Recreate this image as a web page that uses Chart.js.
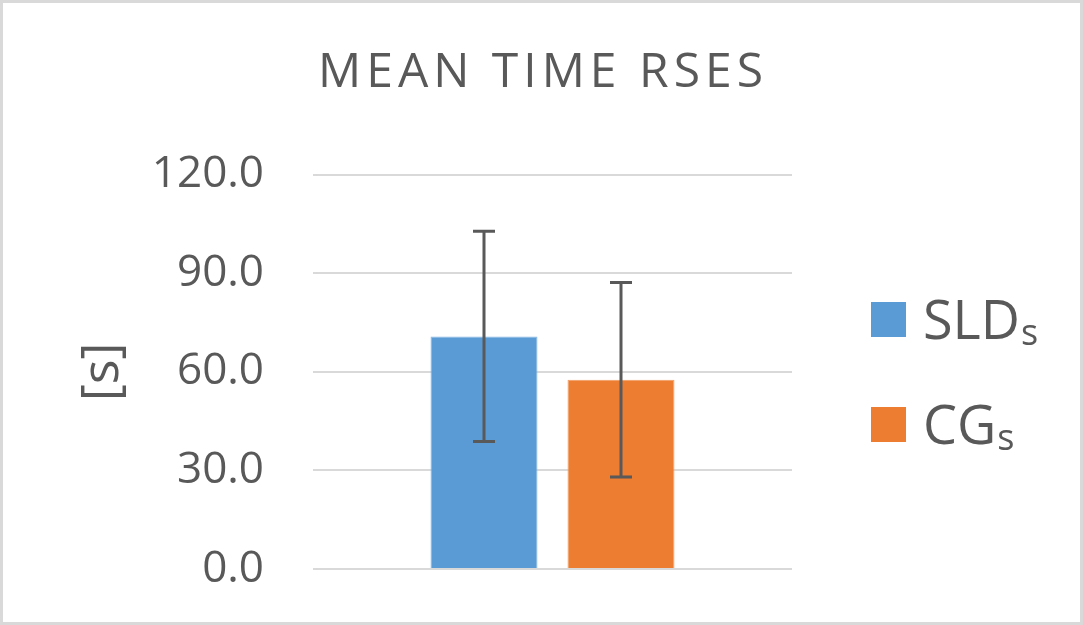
<!DOCTYPE html>
<html>
<head>
<meta charset="utf-8">
<script src="https://cdn.jsdelivr.net/npm/chart.js@4"></script>
<style>
  html, body { margin: 0; padding: 0; background: #fff; }
  .frame {
    width: 1083px; height: 625px; box-sizing: border-box;
    border: 3px solid #d9d9d9; background: #fff;
  }
  canvas { display: block; }
</style>
</head>
<body>
<div class="frame"><canvas id="chart" width="1077" height="619"></canvas></div>
<script>
// --- Data ---
const categories = [''];
const seriesNames = ['SLD', 'CG'];
const seriesSub = ['s', 's'];
const seriesColors = ['#5B9BD5', '#ED7D31'];
const seriesEdges = ['#86b6e2', '#f29c62'];
const meanValues = [70.8, 57.6];
const sdValues = [32.0, 29.6];
const yMin = 0;
const yMax = 120;
const yStep = 30;

const textColor = '#595959';
const fontFamily = '"Open Sans", Lato, sans-serif';

// --- Error bars (mean +/- sd) ---
const errorBars = {
    id: 'errorBars',
    afterDatasetsDraw(chart) {
        const ctx = chart.ctx;
        const y = chart.scales.y;
        ctx.save();
        ctx.strokeStyle = textColor;
        ctx.lineWidth = 3;
        chart.data.datasets.forEach((ds, i) => {
            const bar = chart.getDatasetMeta(i).data[0];
            if (!bar) return;
            const top = y.getPixelForValue(meanValues[i] + sdValues[i]);
            const bot = y.getPixelForValue(meanValues[i] - sdValues[i]);
            const cap = 11;
            ctx.beginPath();
            ctx.moveTo(bar.x, top); ctx.lineTo(bar.x, bot);
            ctx.moveTo(bar.x - cap, top); ctx.lineTo(bar.x + cap, top);
            ctx.moveTo(bar.x - cap, bot); ctx.lineTo(bar.x + cap, bot);
            ctx.stroke();
        });
        ctx.restore();
    }
};

// --- Title: centre over the whole canvas and add letter spacing ---
const wideTitle = {
    id: 'wideTitle',
    afterInit(chart) {
        const t = chart.titleBlock;
        if (!t) return;
        const orig = t.draw.bind(t);
        t.draw = function () {
            chart.ctx.save();
            chart.ctx.letterSpacing = '5px';
            orig();
            chart.ctx.restore();
        };
    },
    afterLayout(chart) {
        const t = chart.titleBlock;
        if (!t) return;
        t.left = 0;
        t.right = 1080;
        t.width = 1080;
    }
};

// --- Legend with subscript ---
const subLegend = {
    id: 'subLegend',
    afterDraw(chart) {
        const ctx = chart.ctx;
        const x0 = 868;
        const rows = [299, 404];
        const box = 35;
        ctx.save();
        ctx.textBaseline = 'alphabetic';
        ctx.textAlign = 'left';
        seriesNames.forEach((name, i) => {
            const top = rows[i];
            ctx.fillStyle = seriesColors[i];
            ctx.fillRect(x0, top, box, box);
            ctx.fillStyle = textColor;
            ctx.font = '54px ' + fontFamily;
            const base = top + box + 2;
            ctx.fillText(name, x0 + 52, base);
            const w = ctx.measureText(name).width;
            ctx.font = '36px ' + fontFamily;
            ctx.fillText(seriesSub[i], x0 + 52 + w + 1, base + 6);
        });
        ctx.restore();
    }
};

new Chart(document.getElementById('chart').getContext('2d'), {
    type: 'bar',
    data: {
        labels: categories,
        datasets: seriesNames.map((name, i) => ({
            label: name + seriesSub[i],
            data: [meanValues[i]],
            backgroundColor: seriesColors[i],
            borderColor: seriesEdges[i],
            borderWidth: 1,
            categoryPercentage: 0.572,
            barPercentage: 0.781
        }))
    },
    options: {
        responsive: false,
        animation: false,
        devicePixelRatio: 1,
        layout: { padding: { left: 0, right: 288, top: 0, bottom: 53 } },
        plugins: {
            legend: { display: false },
            tooltip: { enabled: false },
            title: {
                display: true,
                text: 'MEAN TIME RSES',
                color: textColor,
                font: { family: fontFamily, size: 48, weight: 'normal', lineHeight: 1.2 },
                padding: { top: 41.5, bottom: 72.7 }
            }
        },
        scales: {
            x: { display: false },
            y: {
                min: yMin,
                max: yMax,
                ticks: {
                    stepSize: yStep,
                    color: textColor,
                    padding: 0,
                    font: { family: fontFamily, size: 44 },
                    callback: (v) => v.toFixed(1)
                },
                grid: {
                    color: '#d9d9d9',
                    lineWidth: 2,
                    drawTicks: true,
                    tickLength: 49,
                    tickColor: 'rgba(0,0,0,0)'
                },
                border: { display: false },
                title: {
                    display: true,
                    text: '[s]',
                    color: textColor,
                    font: { family: fontFamily, size: 52, lineHeight: 1.2 },
                    padding: { top: 69, bottom: 0 }
                },
                afterFit(scale) { scale.width = 310; }
            }
        }
    },
    plugins: [errorBars, wideTitle, subLegend]
});
</script>
</body>
</html>
